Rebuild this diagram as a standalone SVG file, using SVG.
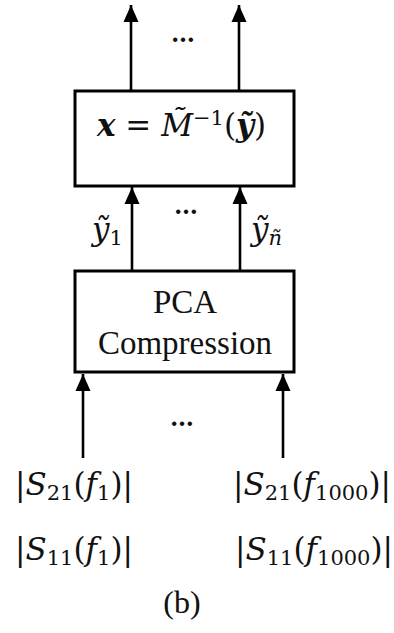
<svg xmlns="http://www.w3.org/2000/svg" width="394" height="633" viewBox="0 0 394 633">
<style>
.box{fill:#fff;stroke:#000;stroke-width:3}
.ln{stroke:#000;stroke-width:2.6;fill:none;marker-end:url(#ah)}
.m{font-family:"DejaVu Serif",serif;font-size:31px;fill:#111}
.t{font-family:"Liberation Serif","Times New Roman",serif;fill:#111}
.dots{font-family:"DejaVu Serif",serif;font-size:24px;fill:#111;text-anchor:middle;font-weight:bold}
</style>
<defs>
<marker id="ah" markerUnits="userSpaceOnUse" markerWidth="18" markerHeight="16" refX="17" refY="8" orient="auto">
<path d="M0,0.5 L17,8 L0,15.5 Z" fill="#000"/>
</marker>
</defs>
<rect width="394" height="633" fill="#fff"/>
<g id="connectors">
<line class="ln" x1="131" y1="90" x2="131" y2="5"/>
<line class="ln" x1="239" y1="90" x2="239" y2="5"/>
<line class="ln" x1="132" y1="270" x2="132" y2="187"/>
<line class="ln" x1="240" y1="270" x2="240" y2="187"/>
<line class="ln" x1="83" y1="458" x2="83" y2="374"/>
<line class="ln" x1="283" y1="458" x2="283" y2="374"/>
<text class="dots" x="183" y="42">…</text>
<text class="dots" x="186" y="214">…</text>
<text class="dots" x="182" y="426">…</text>
<text class="m" x="92" y="240" font-style="italic">ỹ<tspan font-size="21" font-style="normal" dy="5">1</tspan></text>
<text class="m" x="251" y="240" font-style="italic">ỹ<tspan font-size="21" dy="5">ñ</tspan></text>
</g>
<g id="inverse">
<rect class="box" x="75" y="91" width="219" height="95"/>
<text class="m" x="97" y="136"><tspan font-weight="bold" font-style="italic">x</tspan> = <tspan font-style="italic">M̃</tspan><tspan font-size="21" dy="-11">−1</tspan><tspan dy="11">(</tspan><tspan font-weight="bold" font-style="italic">ỹ</tspan>)</text>
</g>
<g id="pca">
<rect class="box" x="75" y="271" width="219" height="101"/>
<text class="t" x="185" y="313" font-size="33" text-anchor="middle">PCA</text>
<text class="t" x="185" y="354" font-size="33" text-anchor="middle">Compression</text>
</g>
<g id="inputs">
<text class="m" x="15" y="495">|<tspan font-style="italic">S</tspan><tspan font-size="21" dy="5">21</tspan><tspan dy="-5">(</tspan><tspan font-style="italic">f</tspan><tspan font-size="21" dy="5">1</tspan><tspan dy="-5">)|</tspan></text>
<text class="m" x="233" y="495">|<tspan font-style="italic">S</tspan><tspan font-size="21" dy="5">21</tspan><tspan dy="-5">(</tspan><tspan font-style="italic">f</tspan><tspan font-size="21" dy="5">1000</tspan><tspan dy="-5">)|</tspan></text>
<text class="m" x="15" y="560">|<tspan font-style="italic">S</tspan><tspan font-size="21" dy="5">11</tspan><tspan dy="-5">(</tspan><tspan font-style="italic">f</tspan><tspan font-size="21" dy="5">1</tspan><tspan dy="-5">)|</tspan></text>
<text class="m" x="235" y="560">|<tspan font-style="italic">S</tspan><tspan font-size="21" dy="5">11</tspan><tspan dy="-5">(</tspan><tspan font-style="italic">f</tspan><tspan font-size="21" dy="5">1000</tspan><tspan dy="-5">)|</tspan></text>
</g>
<text class="t" x="182" y="613" font-size="32" text-anchor="middle">(b)</text>
</svg>
